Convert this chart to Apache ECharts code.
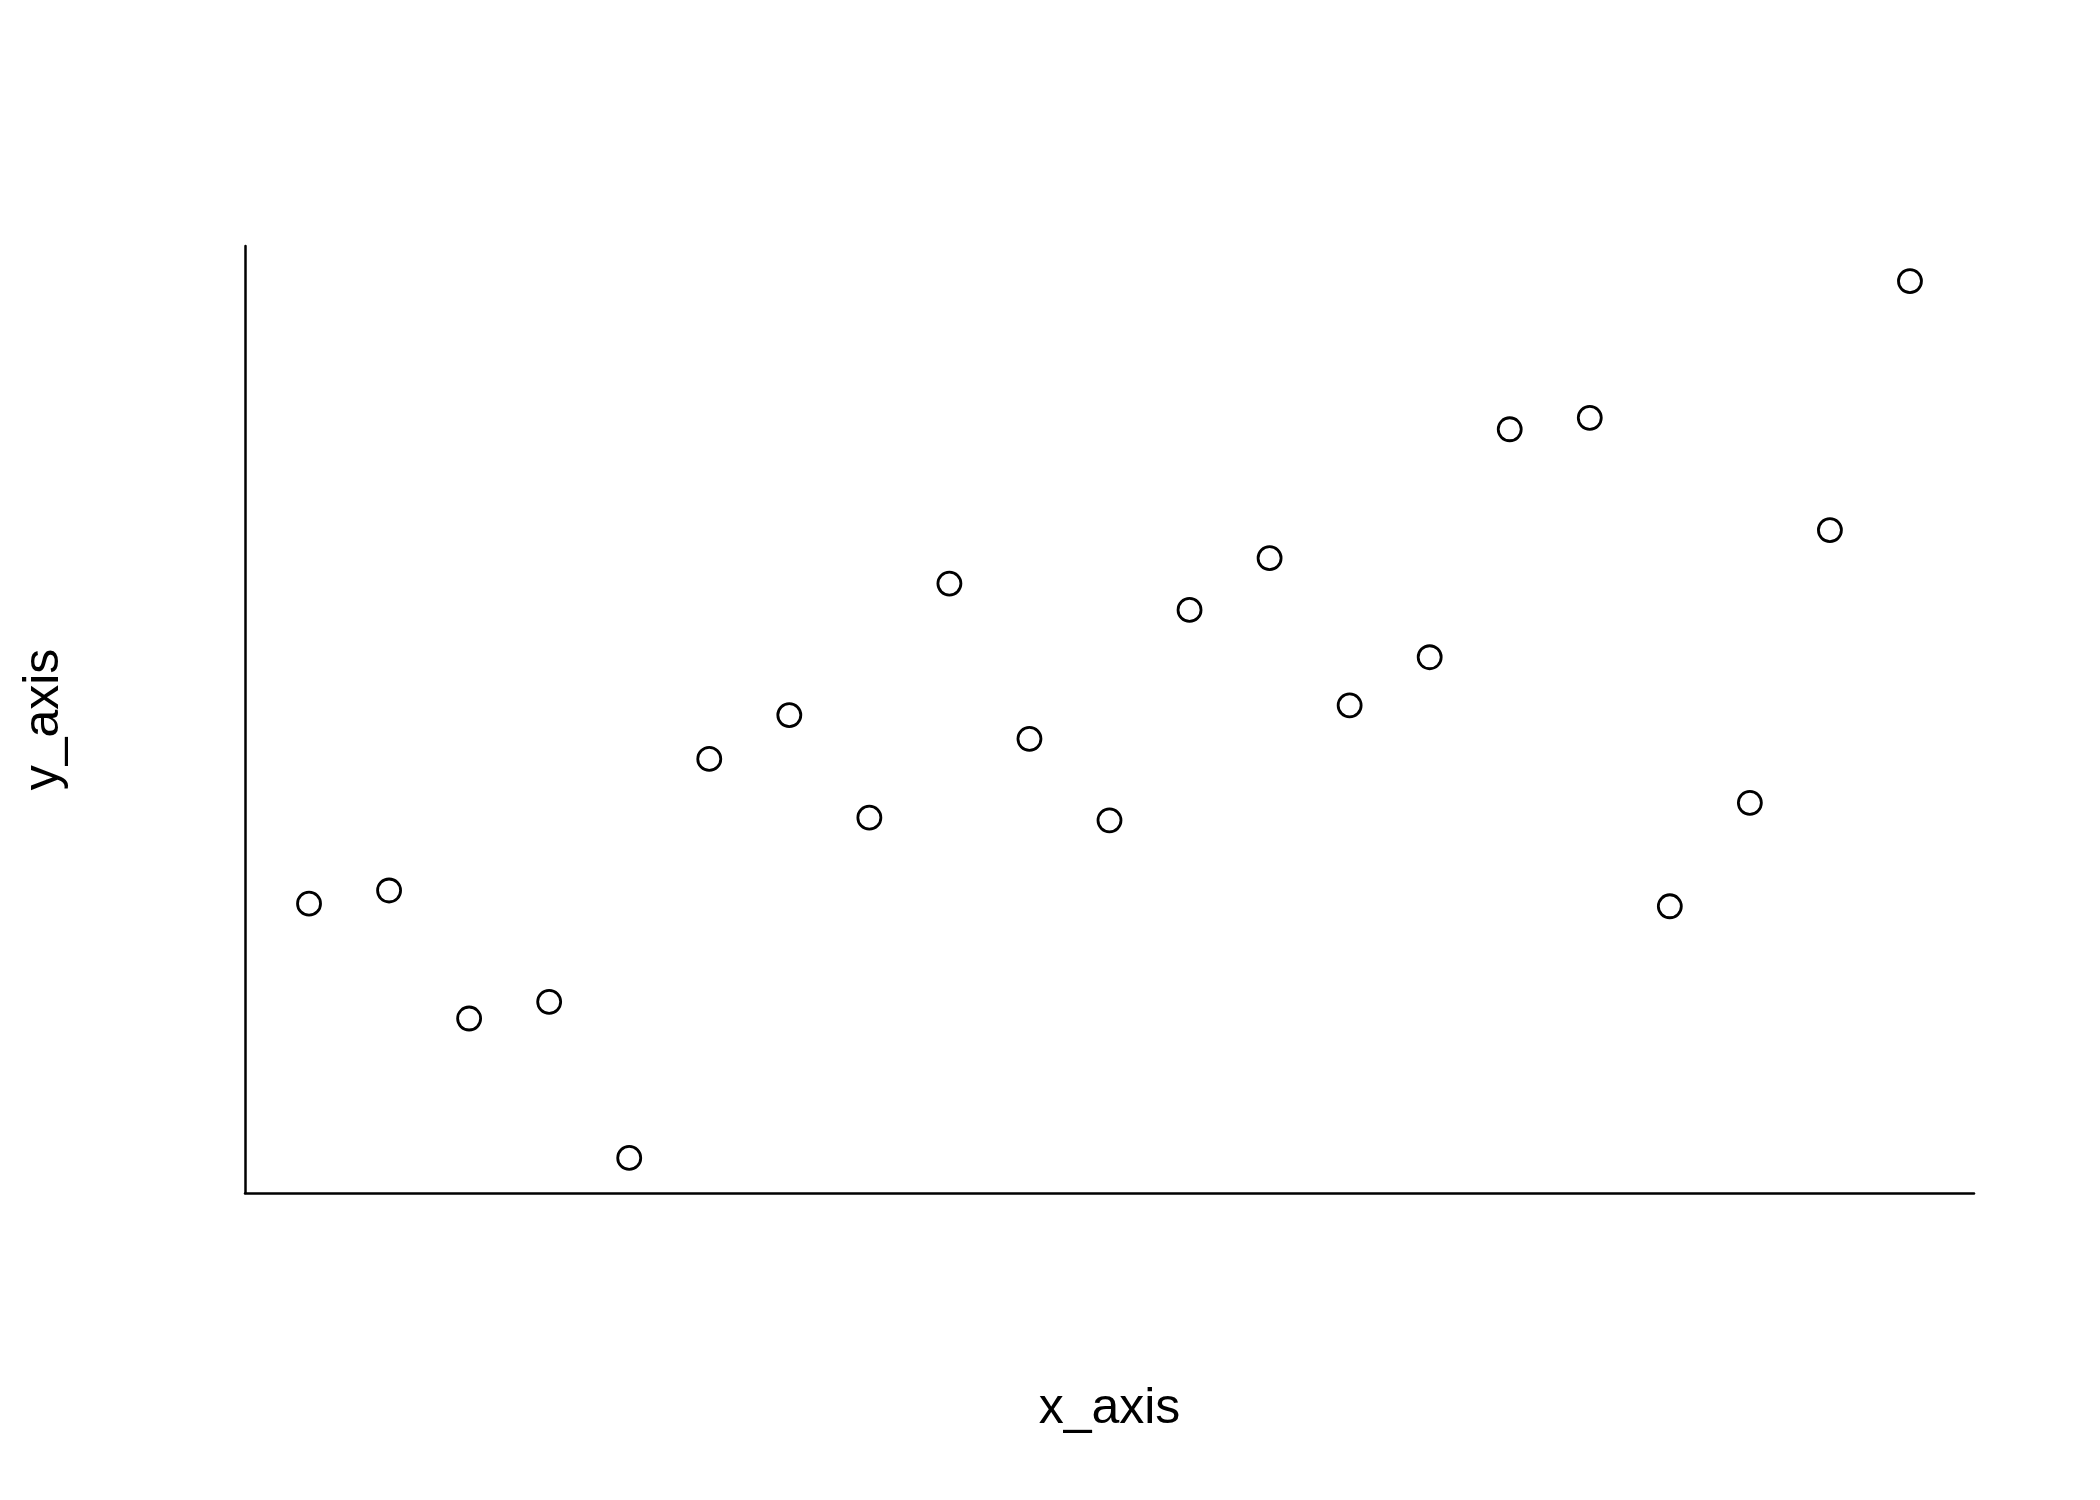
<!DOCTYPE html>
<html>
<head>
<meta charset="utf-8">
<script src="https://cdn.jsdelivr.net/npm/echarts@6/dist/echarts.min.js"></script>
<style>
    html, body { margin: 0; padding: 0; background: #fff; }
    #chart { width: 2100px; height: 1500px; }
</style>
</head>
<body>
<div id="chart"></div>
<script>
    // data (index 1..21)
    var xValues = [1, 2, 3, 4, 5, 6, 7, 8, 9, 10, 11, 12, 13, 14, 15, 16, 17, 18, 19, 20, 21];
    var yValues = [29.0, 30.5, 15.9, 17.8, 0.0, 45.5, 50.5, 38.8, 65.5, 47.8, 38.5,
                   62.5, 68.4, 51.6, 57.1, 83.1, 84.4, 28.7, 40.5, 71.6, 100.0];

    var points = xValues.map(function (x, i) { return [x, yValues[i]]; });

    var chart = echarts.init(document.getElementById('chart'));
    var font = 'Liberation Sans, Arial, Helvetica, sans-serif';

    chart.setOption({
        backgroundColor: '#fff',
        animation: false,
        grid: { left: 245, right: 126, top: 246, bottom: 307 },
        xAxis: {
            type: 'value',
            min: 0.2,
            max: 21.8,
            name: 'x_axis',
            nameLocation: 'middle',
            nameGap: 191,
            nameTextStyle: { fontFamily: font, fontSize: 50, color: '#000' },
            axisLine: { show: true, onZero: false, lineStyle: { color: '#000', width: 2.5 } },
            axisTick: { show: false },
            axisLabel: { show: false },
            splitLine: { show: false }
        },
        yAxis: {
            type: 'value',
            min: -4,
            max: 104,
            name: 'y_axis',
            nameLocation: 'middle',
            nameGap: 176,
            nameTextStyle: { fontFamily: font, fontSize: 50, color: '#000' },
            axisLine: { show: true, onZero: false, lineStyle: { color: '#000', width: 2.5 } },
            axisTick: { show: false },
            axisLabel: { show: false },
            splitLine: { show: false }
        },
        series: [{
            type: 'scatter',
            data: points,
            symbol: 'circle',
            symbolSize: 23,
            itemStyle: { color: '#fff', borderColor: '#000', borderWidth: 2.8, opacity: 1 }
        }]
    });
</script>
</body>
</html>
